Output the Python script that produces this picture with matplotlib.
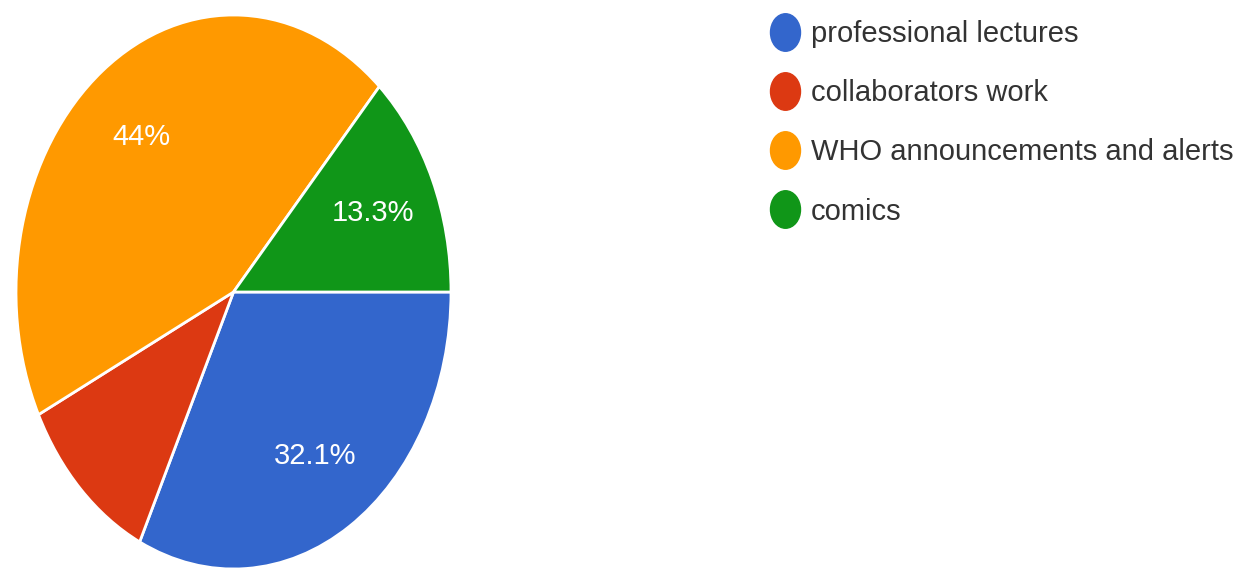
import matplotlib.pyplot as plt
from matplotlib.lines import Line2D
from matplotlib.path import Path

# Slice data (clockwise from 3 o'clock)
categories = ["professional lectures", "collaborators work",
              "WHO announcements and alerts", "comics"]
shares = [32.1, 10.6, 44.0, 13.3]
pct_labels = ["32.1%", "", "44%", "13.3%"]
colors = ["#3366CC", "#DC3912", "#FF9900", "#109618"]

plt.rcParams["font.family"] = ["Liberation Sans", "DejaVu Sans"]

fig = plt.figure(figsize=(12.46, 5.70), dpi=100)
# pie is stretched vertically in the reference, so use a tall axes box
ax = fig.add_axes([16 / 1246, 1 - 569 / 570, 435 / 1246, 554 / 570])

wedges, texts, autotexts = ax.pie(
    shares, colors=colors, startangle=0, counterclock=False,
    autopct="%1.1f%%", pctdistance=0.7,
    wedgeprops=dict(edgecolor="white", linewidth=2),
    textprops=dict(color="white", fontsize=21),
)
for t, lab in zip(autotexts, pct_labels):
    t.set_text(lab)

ax.set_aspect("auto")
ax.set_xlim(-1, 1)
ax.set_ylim(-1, 1)

# legend on the right, markers slightly tall like the stretched original
circ = Path.unit_circle()
oval = Path(circ.vertices * [0.8, 1.0], circ.codes)
handles = [Line2D([], [], linestyle="none", marker=oval, markersize=27,
                  markerfacecolor=c, markeredgecolor=c) for c in colors]
fig.legend(handles, categories, loc="upper left",
           bbox_to_anchor=(770 / 1246, 1 - 20 / 570), frameon=False,
           fontsize=21, labelcolor="#333333", handlelength=1.0,
           handletextpad=0.4, labelspacing=1.07, borderpad=0,
           borderaxespad=0)

fig.savefig("out.png", dpi=100)
